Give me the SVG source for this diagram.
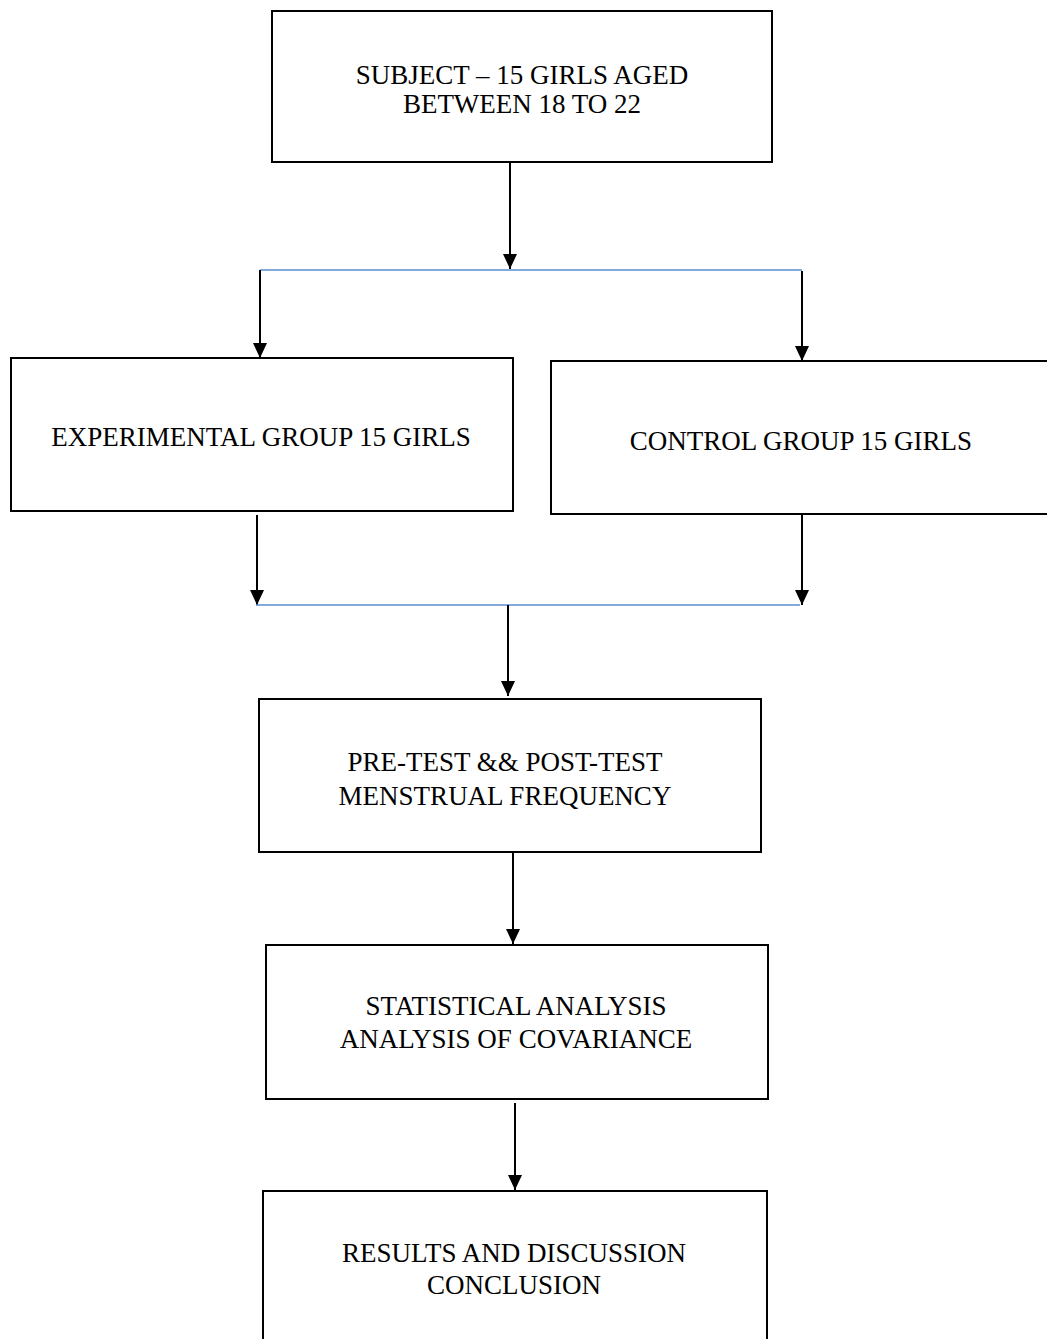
<svg xmlns="http://www.w3.org/2000/svg" width="1047" height="1339" viewBox="0 0 1047 1339">
<style>
.box{fill:#fff;stroke:#000;stroke-width:2}
.t{font-family:"Liberation Serif","Times New Roman",serif;font-size:27px;fill:#000;text-anchor:middle}
.arr{stroke:#000;stroke-width:2;fill:none;marker-end:url(#ah)}
.blue{stroke:#5b8ed0;stroke-width:1.5;fill:none}
</style>
<defs>
<marker id="ah" markerUnits="userSpaceOnUse" markerWidth="16" markerHeight="16" refX="15" refY="7" orient="auto">
<path d="M0,0 L15,7 L0,14 Z" fill="#000"/>
</marker>
</defs>
<rect width="1047" height="1339" fill="#fff"/>
<g id="connectors">
<line class="arr" x1="510" y1="163" x2="510" y2="269"/>
<line class="blue" x1="260" y1="270" x2="802" y2="270"/>
<line class="arr" x1="260" y1="270" x2="260" y2="358"/>
<line class="arr" x1="802" y1="271" x2="802" y2="361"/>
<line class="arr" x1="257" y1="515" x2="257" y2="605"/>
<line class="arr" x1="802" y1="515" x2="802" y2="605"/>
<line class="blue" x1="256" y1="605" x2="800" y2="605"/>
<line class="arr" x1="508" y1="605" x2="508" y2="696"/>
<line class="arr" x1="513" y1="853" x2="513" y2="944"/>
<line class="arr" x1="515" y1="1103" x2="515" y2="1190"/>
</g>
<g id="subject">
<rect class="box" x="272" y="11" width="500" height="151"/>
<text class="t" x="522" y="84">SUBJECT – 15 GIRLS AGED</text>
<text class="t" x="522" y="113">BETWEEN 18 TO 22</text>
</g>
<g id="experimental">
<rect class="box" x="11" y="358" width="502" height="153"/>
<text class="t" x="261" y="446">EXPERIMENTAL GROUP 15 GIRLS</text>
</g>
<g id="control">
<rect class="box" x="551" y="361" width="500" height="153"/>
<text class="t" x="801" y="450">CONTROL GROUP 15 GIRLS</text>
</g>
<g id="pretest">
<rect class="box" x="259" y="699" width="502" height="153"/>
<text class="t" x="505" y="771">PRE-TEST &amp;&amp; POST-TEST</text>
<text class="t" x="505" y="805">MENSTRUAL FREQUENCY</text>
</g>
<g id="statistical">
<rect class="box" x="266" y="945" width="502" height="154"/>
<text class="t" x="516" y="1015">STATISTICAL ANALYSIS</text>
<text class="t" x="516" y="1048">ANALYSIS OF COVARIANCE</text>
</g>
<g id="results">
<rect class="box" x="263" y="1191" width="504" height="160"/>
<text class="t" x="514" y="1262">RESULTS AND DISCUSSION</text>
<text class="t" x="514" y="1294">CONCLUSION</text>
</g>
</svg>
